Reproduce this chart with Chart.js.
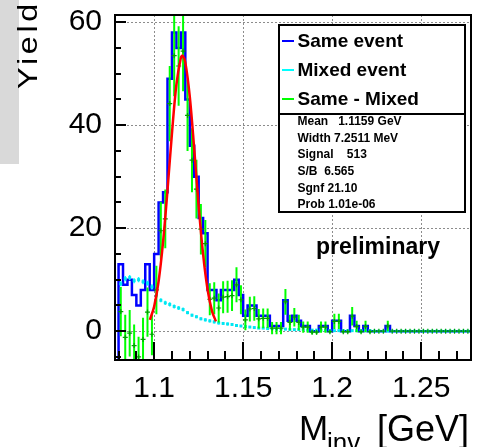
<!DOCTYPE html>
<html>
<head>
<meta charset="utf-8">
<title>Invariant mass</title>
<script src="https://cdn.jsdelivr.net/npm/chart.js@4.4.1/dist/chart.umd.min.js"></script>
<style>
  html, body { margin: 0; padding: 0; background: #fff; }
  #wrap { position: relative; width: 481px; height: 447px; }
</style>
</head>
<body>
<div id="wrap"><canvas id="mass" width="481" height="447"></canvas></div>
<script>
// Axis ranges and binning (2.5 MeV bins starting at 1.08 GeV)
const X_MIN = 1.078;
const X_MAX = 1.278;
const Y_MIN = -5.6;
const Y_MAX = 61.4;
const BIN_START = 1.08;
const BIN_WIDTH = 0.0025;

const X_TICKS = [1.1, 1.15, 1.2, 1.25];
const X_TICK_LABELS = ['1.1', '1.15', '1.2', '1.25'];
const Y_TICKS = [0, 20, 40, 60];
const Y_TICK_LABELS = ['0', '20', '40', '60'];

// Same event histogram (blue)
const SAME_EVENT = [
  13, 9, 10, 7, 5, 8, 13, 8, 15, 25,
  27, 49, 58, 55, 58, 45, 36, 30, 22, 19,
  8, 8, 6, 8, 8, 8, 10, 7, 3, 5,
  5, 3, 3, 3, 1, 1, 1, 6, 2, 3,
  2, 1, 1, 0, 0, 1, 1, 0, 2, 2,
  0, 0, 3, 1, 0, 1, 0, 0, 0, 0,
  1, 0, 0, 0, 0, 0, 0, 0, 0, 0,
  0, 0, 0, 0, 0, 0, 0, 0, 0,
];

// Mixed event (cyan points)
const MIXED_EVENT = [
  9.2, 10.2, 10.4, 9.8, 10.0, 9.6, 9.3, 8.6, 7.0, 6.0,
  5.5, 5.2, 4.8, 4.5, 4.2, 3.6, 3.1, 2.8, 2.4, 2.2,
  2.0, 1.8, 1.6, 1.5, 1.4, 1.3, 1.1, 1.0, 0.9, 0.8,
  0.7, 0.6, 0.6, 0.5, 0.5, 0.4, 0.4, 0.4, 0.3, 0.3,
  0.3, 0.3, 0.2, 0.2, 0.2, 0.2, 0.2, 0.1, 0.1, 0.1,
  0.1, 0.1, 0.1, 0.1, 0.1, 0.1, 0.1, 0, 0, 0,
  0, 0, 0, 0, 0, 0, 0, 0, 0, 0,
  0, 0, 0, 0, 0, 0, 0, 0, 0,
];
const MIXED_ERR = [
  0.5, 0.5, 0.5, 0.5, 0.5, 0.5, 0.5, 0.5, 0.4, 0.4,
  0.4, 0.4, 0.4, 0.4, 0.4, 0.3, 0.3, 0.3, 0.3, 0.3,
  0.3, 0.3, 0.3, 0.3, 0.3, 0.3, 0.2, 0.2, 0.2, 0.2,
  0.2, 0.2, 0.2, 0.2, 0.2, 0.2, 0.2, 0.2, 0.1, 0.1,
  0.1, 0.1, 0.1, 0.1, 0.1, 0.1, 0.1, 0.1, 0.1, 0.1,
  0.1, 0.1, 0.1, 0.1, 0.1, 0.1, 0.1, 0, 0, 0,
  0, 0, 0, 0, 0, 0, 0, 0, 0, 0,
  0, 0, 0, 0, 0, 0, 0, 0, 0,
];

// Same - Mixed (green points)
const SAME_MINUS_MIXED = [
  3.8, -1.2, -0.4, -2.8, -5.0, -1.6, 3.7, -0.6, 8.0, 19.5,
  21.8, 44.2, 53.5, 51.5, 54.4, 41.9, 33.2, 27.6, 19.8, 17.0,
  6.2, 6.4, 4.5, 6.6, 6.7, 6.9, 9.0, 6.1, 2.2, 4.3,
  4.4, 2.4, 2.5, 2.5, 0.6, 0.6, 0.6, 5.7, 1.7, 2.7,
  1.7, 0.8, 0.8, -0.2, -0.2, 0.8, 0.8, -0.1, 1.9, 1.9,
  -0.1, -0.1, 2.9, 0.9, -0.1, 0.9, -0.1, 0, 0, 0,
  1.0, 0, 0, 0, 0, 0, 0, 0, 0, 0,
  0, 0, 0, 0, 0, 0, 0, 0, 0,
];
const SAME_MINUS_MIXED_ERR = [
  4.8, 4.4, 4.5, 4.1, 3.9, 4.2, 4.8, 4.1, 4.7, 5.6,
  5.7, 7.3, 7.9, 7.7, 7.8, 6.9, 6.2, 5.7, 4.9, 4.6,
  3.1, 3.1, 2.8, 3.1, 3.1, 3.0, 3.4, 2.8, 2.0, 2.4,
  2.4, 1.9, 1.9, 1.9, 1.2, 1.2, 1.2, 2.5, 1.5, 1.8,
  1.5, 1.1, 1.1, 0.4, 0.4, 1.1, 1.1, 0.3, 1.5, 1.5,
  0.3, 0.3, 1.8, 1.1, 0.3, 1.1, 0.3, 0, 0, 0,
  1.0, 0, 0, 0, 0, 0, 0, 0, 0, 0,
  0, 0, 0, 0, 0, 0, 0, 0, 0,
];

// Gaussian fit (red)
const FIT_X = [
  1.0976, 1.1, 1.1025, 1.105, 1.1075, 1.11, 1.1125, 1.115, 1.1159,
  1.1175, 1.12, 1.1225, 1.125, 1.1275, 1.13, 1.1325, 1.1347,
];
const FIT_Y = [
  2.2, 4.8, 9.7, 17.3, 27.4, 38.4, 47.9, 53.1, 53.5,
  52.2, 45.6, 35.4, 24.3, 14.9, 8.1, 3.9, 1.9,
];

const LEGEND_LABELS = ['Same event', 'Mixed event', 'Same - Mixed'];
const LEGEND_COLORS = ['#0000ff', '#00ffff', '#00ff00'];
const STATS_LINES = [
  'Mean   1.1159 GeV',
  'Width 7.2511 MeV',
  'Signal    513',
  'S/B  6.565',
  'Sgnf 21.10',
  'Prob 1.01e-06',
];

const FONT = "'Liberation Sans', Arial, Helvetica, sans-serif";

const binCenter = (i) => BIN_START + (i + 0.5) * BIN_WIDTH;

// histogram outline: starts at the frame bottom like ROOT does
const histPoints = [{ x: BIN_START, y: Y_MIN }]
  .concat(SAME_EVENT.map((v, i) => ({ x: BIN_START + i * BIN_WIDTH, y: v })))
  .concat([{ x: BIN_START + SAME_EVENT.length * BIN_WIDTH, y: SAME_EVENT[SAME_EVENT.length - 1] }]);

// draw vertical error bars right before the dataset's markers
const errorBars = {
  id: 'errorBars',
  beforeDatasetDraw(chart, args) {
    const ds = chart.data.datasets[args.index];
    if (!ds.errors) return;
    const { ctx, chartArea: a } = chart;
    const yScale = chart.scales.y;
    ctx.save();
    ctx.beginPath();
    ctx.rect(a.left, a.top, a.right - a.left, a.bottom - a.top);
    ctx.clip();
    ctx.strokeStyle = ds.errorColor;
    ctx.lineWidth = ds.errorWidth;
    ctx.beginPath();
    args.meta.data.forEach((pt, i) => {
      const e = ds.errors[i];
      if (!e) return;
      const v = ds.data[i].y;
      ctx.moveTo(pt.x, yScale.getPixelForValue(v - e));
      ctx.lineTo(pt.x, yScale.getPixelForValue(v + e));
    });
    ctx.stroke();
    ctx.restore();
  },
};

// background, side panel and rotated y title
const backdrop = {
  id: 'backdrop',
  beforeDraw(chart) {
    const { ctx } = chart;
    ctx.save();
    ctx.fillStyle = '#fff';
    ctx.fillRect(0, 0, chart.width, chart.height);
    ctx.fillStyle = '#d9d9d9';
    ctx.fillRect(0, 0, 19, 164);
    ctx.translate(37, 89);
    ctx.rotate(-Math.PI / 2);
    ctx.scale(1.2, 1);
    ctx.fillStyle = '#000';
    ctx.font = `27px ${FONT}`;
    ctx.letterSpacing = '3px';
    ctx.textBaseline = 'alphabetic';
    ctx.fillText('Yield', 0, 0);
    ctx.restore();
  },
};

// frame, ROOT-style inner ticks, legend box, labels
const decorations = {
  id: 'decorations',
  afterDatasetsDraw(chart) {
    const { ctx, chartArea: a } = chart;
    const { x, y } = chart.scales;
    ctx.save();

    // ticks
    ctx.strokeStyle = '#000';
    ctx.lineWidth = 2;
    ctx.beginPath();
    for (let v = -5; v <= 60; v += 5) {
      const py = Math.round(y.getPixelForValue(v));
      const len = v % 20 === 0 ? 11 : 6;
      ctx.moveTo(a.left, py);
      ctx.lineTo(a.left + len, py);
    }
    for (let k = 108; k <= 127; k += 1) {
      const px = Math.round(x.getPixelForValue(k / 100));
      const len = k % 5 === 0 ? 18 : 9;
      ctx.moveTo(px, a.bottom);
      ctx.lineTo(px, a.bottom - len);
    }
    ctx.stroke();

    // frame
    ctx.strokeRect(a.left, a.top, a.right - a.left, a.bottom - a.top);

    // legend box
    const bx = 279, by = 25, bw = 186, bh = 187, sep = 114;
    ctx.fillStyle = '#fff';
    ctx.fillRect(bx, by, bw, bh);
    ctx.lineWidth = 2;
    ctx.strokeRect(bx, by, bw, bh);
    ctx.beginPath();
    ctx.moveTo(bx, sep);
    ctx.lineTo(bx + bw, sep);
    ctx.stroke();

    ctx.textBaseline = 'middle';
    ctx.textAlign = 'left';
    ctx.font = `bold 19px ${FONT}`;
    const rows = [41, 70, 99];
    LEGEND_LABELS.forEach((label, i) => {
      ctx.strokeStyle = LEGEND_COLORS[i];
      ctx.lineWidth = 2;
      ctx.beginPath();
      ctx.moveTo(282, rows[i]);
      ctx.lineTo(294, rows[i]);
      ctx.stroke();
      ctx.fillStyle = '#000';
      ctx.fillText(label, 297.5, rows[i] + 1);
    });

    ctx.font = `bold 12px ${FONT}`;
    STATS_LINES.forEach((line, i) => {
      ctx.fillText(line, 297.5, 121.5 + i * 16.7);
    });

    ctx.font = `bold 23px ${FONT}`;
    ctx.fillText('preliminary', 316, 248);
    ctx.restore();
  },
  afterDraw(chart) {
    const { ctx } = chart;
    ctx.save();
    ctx.fillStyle = '#000';
    ctx.textBaseline = 'alphabetic';
    ctx.textAlign = 'left';
    ctx.font = `35px ${FONT}`;
    ctx.fillText('M', 299, 440);
    ctx.font = `26px ${FONT}`;
    ctx.fillText('inv', 327, 451);
    ctx.textAlign = 'right';
    ctx.font = `36px ${FONT}`;
    ctx.fillText('[GeV]', 469, 441);
    ctx.restore();
  },
};

const ctx = document.getElementById('mass');

new Chart(ctx, {
  type: 'line',
  data: {
    datasets: [
      // red fit on top
      {
        data: FIT_X.map((v, i) => ({ x: v, y: FIT_Y[i] })),
        borderColor: '#ff0000',
        borderWidth: 2.5,
        pointRadius: 0,
        tension: 0.35,
        fill: false,
      },
      // same - mixed
      {
        data: SAME_MINUS_MIXED.map((v, i) => ({ x: binCenter(i), y: v })),
        showLine: false,
        pointStyle: 'cross',
        pointRadius: 2.5,
        pointBorderWidth: 1.2,
        pointBorderColor: '#00a000',
        errors: SAME_MINUS_MIXED_ERR,
        errorColor: '#00ff00',
        errorWidth: 2,
      },
      // mixed event
      {
        data: MIXED_EVENT.map((v, i) => ({ x: binCenter(i), y: v })),
        showLine: false,
        pointStyle: 'rect',
        pointRadius: 2.1,
        pointBorderWidth: 0,
        pointBackgroundColor: '#00e6f2',
        errors: MIXED_ERR,
        errorColor: '#00ffff',
        errorWidth: 1.5,
      },
      // same event histogram
      {
        data: histPoints,
        stepped: 'before',
        borderColor: '#0000ff',
        borderWidth: 2.5,
        pointRadius: 0,
        fill: false,
      },
    ],
  },
  options: {
    responsive: false,
    devicePixelRatio: 1,
    animation: false,
    layout: {
      autoPadding: false,
      padding: { left: 0, top: 15, right: 10, bottom: 0 },
    },
    scales: {
      x: {
        type: 'linear',
        min: X_MIN,
        max: X_MAX,
        afterBuildTicks: (scale) => { scale.ticks = X_TICKS.map((v) => ({ value: v })); },
        afterFit: (scale) => {
          scale.height = 87;
          scale.paddingLeft = 0;
          scale.paddingRight = 0;
        },
        grid: { color: '#8c8c8c', lineWidth: 1, drawTicks: false },
        border: { display: false, dash: [2, 2] },
        ticks: {
          color: '#000',
          font: { family: FONT, size: 30 },
          padding: 11,
          maxRotation: 0,
          autoSkip: false,
          callback: (value, index) => X_TICK_LABELS[index],
        },
      },
      y: {
        type: 'linear',
        min: Y_MIN,
        max: Y_MAX,
        afterBuildTicks: (scale) => { scale.ticks = Y_TICKS.map((v) => ({ value: v })); },
        afterFit: (scale) => {
          scale.width = 115;
          scale.paddingTop = 0;
          scale.paddingBottom = 0;
        },
        grid: { color: '#8c8c8c', lineWidth: 1, drawTicks: false },
        border: { display: false, dash: [2, 2] },
        ticks: {
          color: '#000',
          font: { family: FONT, size: 30 },
          padding: 13,
          callback: (value, index) => Y_TICK_LABELS[index],
        },
      },
    },
    plugins: {
      legend: { display: false },
      tooltip: { enabled: false },
    },
  },
  plugins: [backdrop, errorBars, decorations],
});
</script>
</body>
</html>
